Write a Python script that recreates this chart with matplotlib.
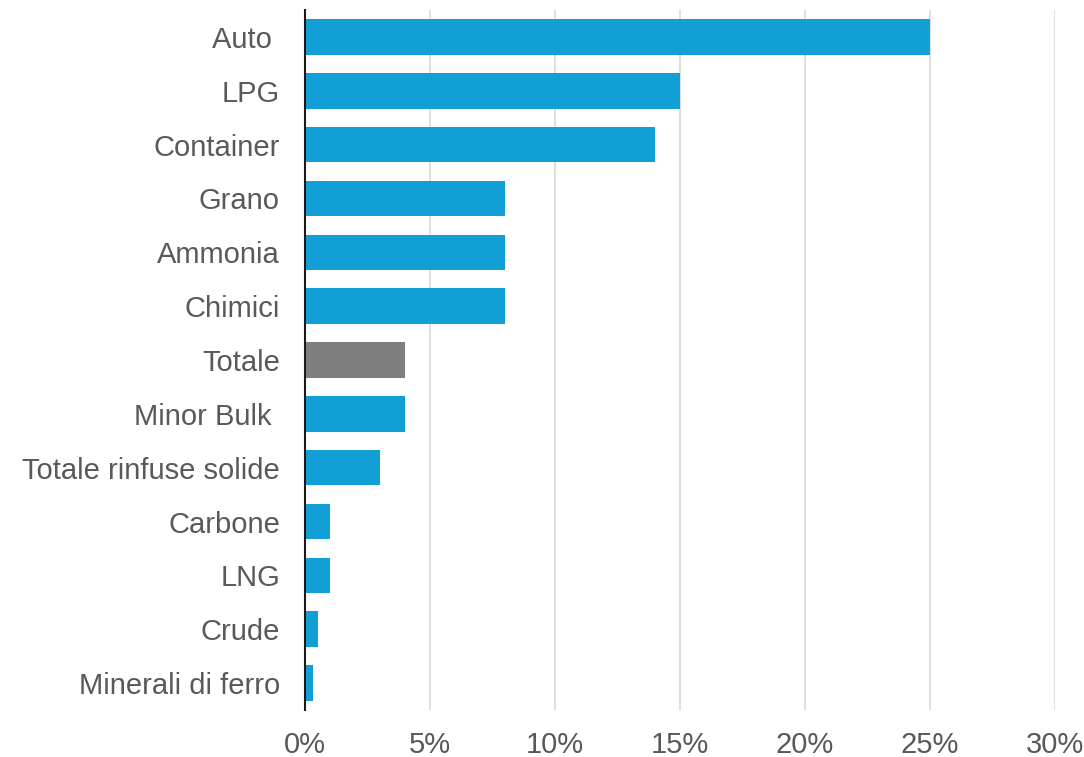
import matplotlib
matplotlib.use("Agg")
import matplotlib.pyplot as plt
from matplotlib.ticker import FuncFormatter

categories = ["Auto ", "LPG", "Container", "Grano", "Ammonia", "Chimici", "Totale",
              "Minor Bulk ", "Totale rinfuse solide", "Carbone", "LNG", "Crude",
              "Minerali di ferro"]
values = [25, 15, 14, 8, 8, 8, 4, 4, 3, 1, 1, 0.5, 0.3]
highlight = "Totale"
xticks = [0, 5, 10, 15, 20, 25, 30]

plt.rcParams['font.family'] = ['Liberation Sans', 'DejaVu Sans']

fig = plt.figure(figsize=(10.84, 7.57), dpi=100)
ax = fig.add_axes([305/1084, 1-710/757, 750/1084, 700/757])

colors = ["#7f7f7f" if c == highlight else "#119fd6" for c in categories]
y = list(range(len(categories)))
ax.barh(y, values, height=0.66, color=colors, zorder=3)
ax.set_ylim(len(categories)-0.5, -0.5)
ax.set_xlim(0, 30)
ax.set_yticks(y)
ax.set_yticklabels(categories, fontsize=21, color="#595959")
ax.set_xticks(xticks)
ax.xaxis.set_major_formatter(FuncFormatter(lambda v, p: f"{v:.0f}%"))
ax.tick_params(axis='x', labelsize=21, colors="#595959", length=0, pad=15)
ax.tick_params(axis='y', length=0, pad=18)
ax.grid(axis='x', color="#d9d9d9", linewidth=1.2, zorder=0)
for s in ["top", "right", "bottom"]:
    ax.spines[s].set_visible(False)
ax.spines["left"].set_color("#1a1a1a")
ax.spines["left"].set_linewidth(1.5)
ax.spines["left"].set_zorder(4)

fig.savefig("out.png", dpi=100)
